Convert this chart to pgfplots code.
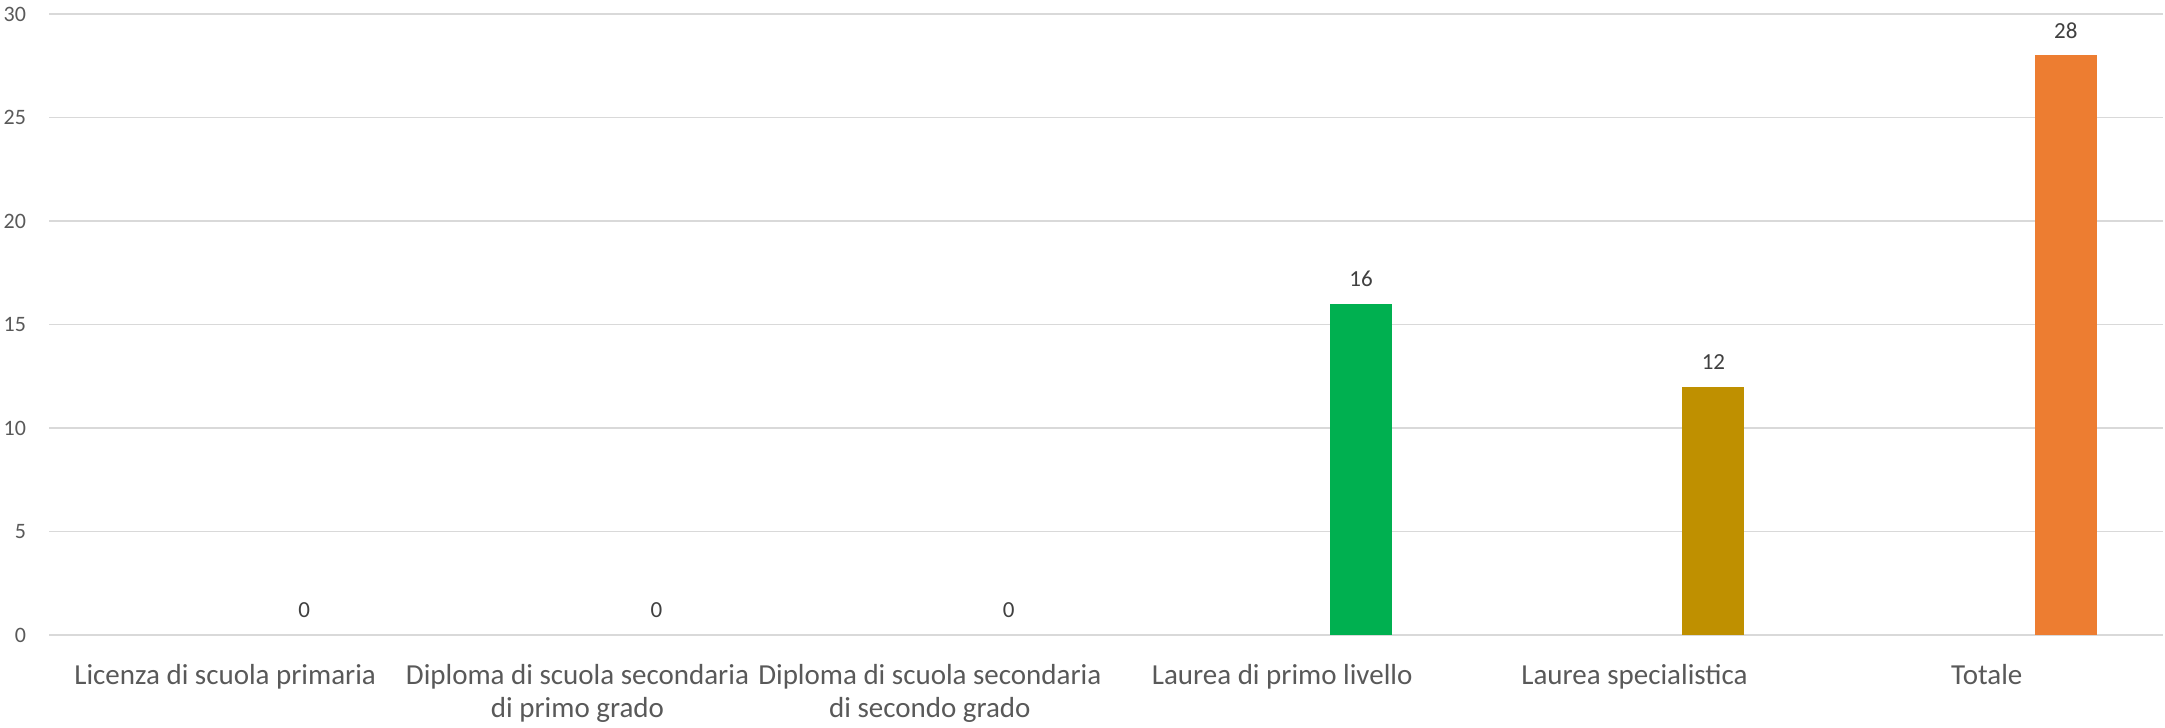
\documentclass[border=0pt]{standalone}
\usepackage{fontspec}
\setmainfont{Carlito}
\usepackage{pgfplots}
\pgfplotsset{compat=1.18}
\definecolor{gridc}{HTML}{D9D9D9}
\definecolor{tickc}{HTML}{595959}
\definecolor{labc}{HTML}{404040}
\definecolor{cgreen}{HTML}{00B050}
\definecolor{cgold}{HTML}{BF9000}
\definecolor{corange}{HTML}{ED7D31}
\begin{document}
\begin{tikzpicture}
\begin{axis}[
scale only axis,
width=1057pt,
height=310.5pt,
xmin=-0.5, xmax=5.5,
ymin=0, ymax=30,
ytick={0,5,...,30},
xtick={0,1,2,3,4,5},
xticklabels={Licenza di scuola primaria,
  {Diploma di scuola secondaria\\di primo grado},
  {Diploma di scuola secondaria\\di secondo grado},
  Laurea di primo livello,
  Laurea specialistica,
  Totale},
axis line style={draw=none},
ymajorgrids=true,
grid style={gridc, line width=0.75pt},
major tick length=0pt,
tick style={draw=none},
/pgf/number format/assume math mode=true,
yticklabel style={font=\fontsize{11}{13}\selectfont, text=tickc, xshift=-8pt},
xticklabel style={font=\fontsize{14.5}{16.8}\selectfont, text=tickc, align=center, yshift=-11pt},
nodes near coords,
nodes near coords style={font=\fontsize{11.5}{13}\selectfont, text=labc, anchor=south, yshift=5pt, xshift=39.5pt},
every axis plot/.append style={ybar, bar width=31pt, bar shift=39.5pt, draw=none},
clip=false,
]
% zero categories: only the label "0"
\addplot[fill=none] coordinates {(0,0) (1,0) (2,0)};
\addplot[fill=cgreen] coordinates {(3,16)};
\addplot[fill=cgold] coordinates {(4,12)};
\addplot[fill=corange] coordinates {(5,28)};
\end{axis}
\pgfresetboundingbox
\path[use as bounding box] (-24.5pt,-46.5pt) rectangle (1058pt,317.5pt);
\end{tikzpicture}
\end{document}
